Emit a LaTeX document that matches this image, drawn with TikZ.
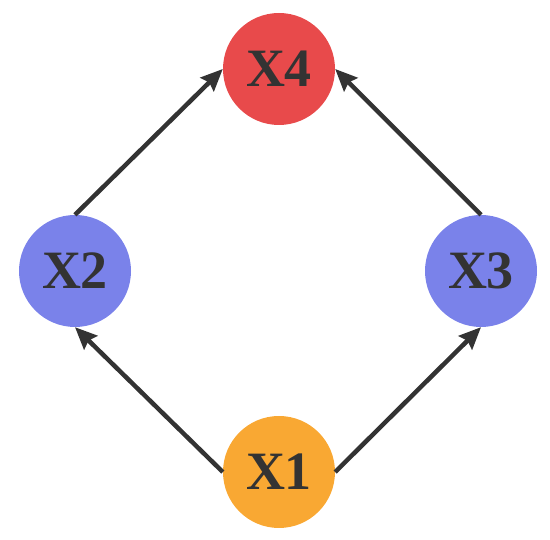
\documentclass[tikz,border=0pt]{standalone}
\usepackage{fontspec}
\setmainfont{Liberation Serif}
\usetikzlibrary{arrows.meta}
\definecolor{varred}{HTML}{E84A4B}
\definecolor{varblue}{HTML}{7A82EA}
\definecolor{varorange}{HTML}{F9A833}
\definecolor{edgegray}{HTML}{333333}
\begin{document}
\begin{tikzpicture}[x=1pt, y=1pt,
    var/.style={circle, minimum size=112pt, inner sep=0pt, text=edgegray,
        font=\fontsize{54}{60}\selectfont\bfseries},
    link/.style={-{Stealth[length=22pt, width=19pt, inset=3pt]}, line width=4.5pt, draw=edgegray}]
    \useasboundingbox (0, 0) rectangle (550, 540);
    % variables
    \node[var, fill=varorange] (x1) at (279, 68) {X1};
    \node[var, fill=varblue] (x2) at (75, 269) {X2};
    \node[var, fill=varblue] (x3) at (481, 269) {X3};
    \node[var, fill=varred] (x4) at (279, 471) {X4};
    % links
    \draw[link] (x1.west) -- (x2.south);
    \draw[link] (x1.east) -- (x3.south);
    \draw[link] (x2.north) -- (x4.west);
    \draw[link] (x3.north) -- (x4.east);
\end{tikzpicture}
\end{document}
